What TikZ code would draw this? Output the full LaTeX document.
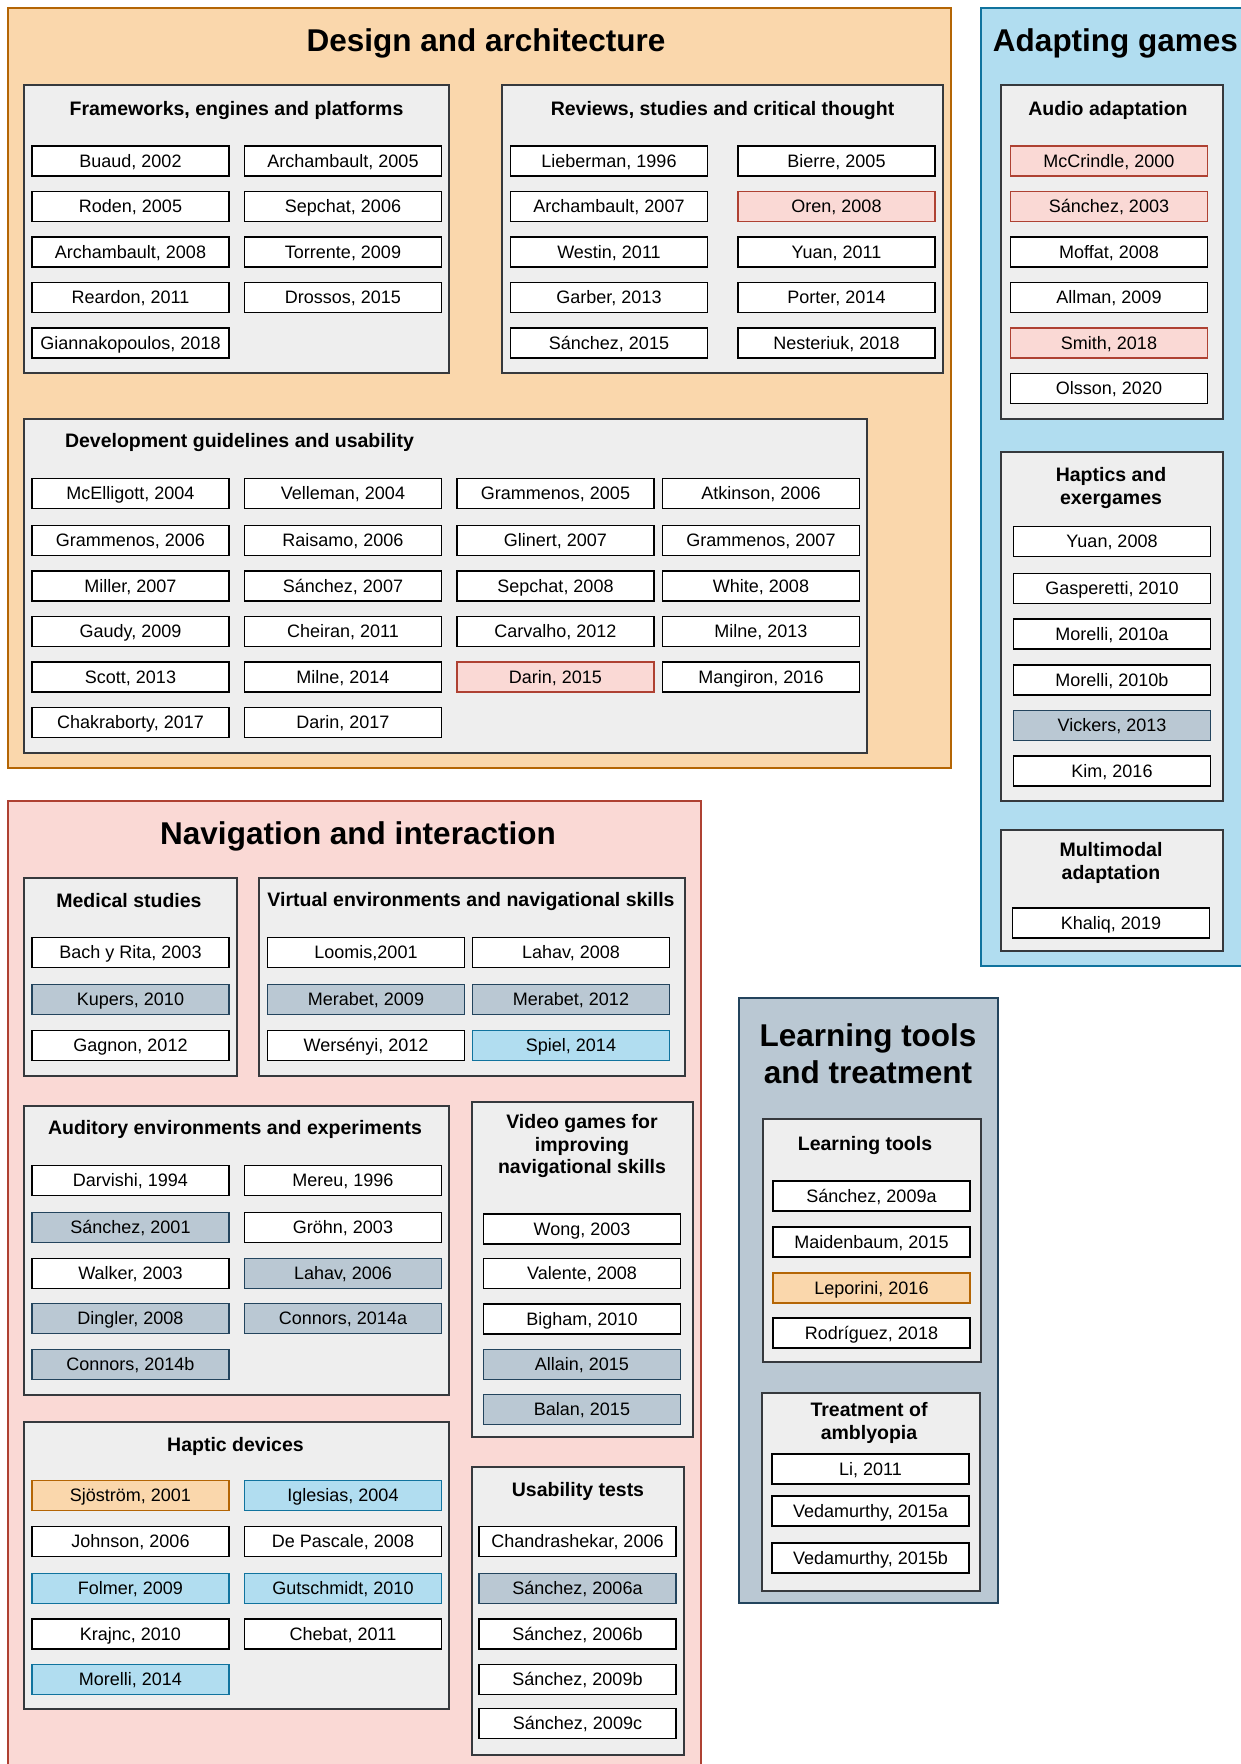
\documentclass[tikz,border=0pt]{standalone}
\usepackage{fontspec}
\setmainfont{Liberation Sans}
\usepackage{xcolor}
\usepackage{tikz}
\definecolor{colorO}{HTML}{FAD7AC}
\definecolor{colorOline}{HTML}{B46504}
\definecolor{colorR}{HTML}{FAD9D5}
\definecolor{colorRline}{HTML}{AE4132}
\definecolor{colorB}{HTML}{B1DDF0}
\definecolor{colorBline}{HTML}{10739E}
\definecolor{colorG}{HTML}{BAC8D3}
\definecolor{colorGline}{HTML}{23445D}
\definecolor{colorBox}{HTML}{EEEEEE}
\definecolor{colorBoxline}{HTML}{36393D}
\newcommand{\reffont}{\fontsize{18}{21}\selectfont}
\newcommand{\groupfont}{\fontsize{19.5}{22.5}\selectfont\bfseries}
\newcommand{\areafont}{\fontsize{31.5}{37}\selectfont\bfseries}
\tikzset{
    ref/.style={draw=black, fill=white, line width=1.4pt, minimum width=197pt, minimum height=30pt, inner sep=0pt, text height=12.9pt, text depth=0pt, font=\reffont},
    refO/.style={ref, draw=colorOline, fill=colorO},
    refR/.style={ref, draw=colorRline, fill=colorR},
    refB/.style={ref, draw=colorBline, fill=colorB},
    refG/.style={ref, draw=colorGline, fill=colorG},
    groupbox/.style={draw=colorBoxline, fill=colorBox, line width=1.2pt},
    grouptitle/.style={font=\groupfont, align=center, inner sep=0pt, yshift=-2pt},
    areatitle/.style={font=\areafont, align=center, inner sep=0pt, yshift=-3.4pt}
}

\begin{document}
\begin{tikzpicture}[x=1pt, y=-1pt]
        \useasboundingbox (0,0) rectangle (1241,1764);

        % Design and architecture
        \filldraw[fill=colorO, draw=colorOline, line width=1.2pt] (8,8) rectangle (951,768);
        \node[areatitle] (design) at (486,40) {Design and architecture};

        \filldraw[groupbox] (24,85) rectangle (449,373);
        \node[grouptitle] (frameworks) at (236.5,108) {Frameworks, engines and platforms};
        \node[ref] (fw1) at (130.5,161) {Buaud, 2002};
        \node[ref] (fw2) at (343,161) {Archambault, 2005};
        \node[ref] (fw3) at (130.5,206.5) {Roden, 2005};
        \node[ref] (fw4) at (343,206.5) {Sepchat, 2006};
        \node[ref] (fw5) at (130.5,252) {Archambault, 2008};
        \node[ref] (fw6) at (343,252) {Torrente, 2009};
        \node[ref] (fw7) at (130.5,297.5) {Reardon, 2011};
        \node[ref] (fw8) at (343,297.5) {Drossos, 2015};
        \node[ref] (fw9) at (130.5,343) {Giannakopoulos, 2018};

        \filldraw[groupbox] (502,85) rectangle (943,373);
        \node[grouptitle] (reviews) at (722.5,108) {Reviews, studies and critical thought};
        \node[ref] (rv1) at (609,161) {Lieberman, 1996};
        \node[ref] (rv2) at (836.5,161) {Bierre, 2005};
        \node[ref] (rv3) at (609,206.5) {Archambault, 2007};
        \node[refR] (rv4) at (836.5,206.5) {Oren, 2008};
        \node[ref] (rv5) at (609,252) {Westin, 2011};
        \node[ref] (rv6) at (836.5,252) {Yuan, 2011};
        \node[ref] (rv7) at (609,297.5) {Garber, 2013};
        \node[ref] (rv8) at (836.5,297.5) {Porter, 2014};
        \node[ref] (rv9) at (609,343) {Sánchez, 2015};
        \node[ref] (rv10) at (836.5,343) {Nesteriuk, 2018};

        \filldraw[groupbox] (24,419) rectangle (867,753);
        \node[grouptitle] (guidelines) at (239.5,440) {Development guidelines and usability};
        \node[ref] (dg1) at (130.5,493.5) {McElligott, 2004};
        \node[ref] (dg2) at (343,493.5) {Velleman, 2004};
        \node[ref] (dg3) at (555.5,493.5) {Grammenos, 2005};
        \node[ref] (dg4) at (761,493.5) {Atkinson, 2006};
        \node[ref] (dg5) at (130.5,540.5) {Grammenos, 2006};
        \node[ref] (dg6) at (343,540.5) {Raisamo, 2006};
        \node[ref] (dg7) at (555.5,540.5) {Glinert, 2007};
        \node[ref] (dg8) at (761,540.5) {Grammenos, 2007};
        \node[ref] (dg9) at (130.5,586) {Miller, 2007};
        \node[ref] (dg10) at (343,586) {Sánchez, 2007};
        \node[ref] (dg11) at (555.5,586) {Sepchat, 2008};
        \node[ref] (dg12) at (761,586) {White, 2008};
        \node[ref] (dg13) at (130.5,631.5) {Gaudy, 2009};
        \node[ref] (dg14) at (343,631.5) {Cheiran, 2011};
        \node[ref] (dg15) at (555.5,631.5) {Carvalho, 2012};
        \node[ref] (dg16) at (761,631.5) {Milne, 2013};
        \node[ref] (dg17) at (130.5,677) {Scott, 2013};
        \node[ref] (dg18) at (343,677) {Milne, 2014};
        \node[refR] (dg19) at (555.5,677) {Darin, 2015};
        \node[ref] (dg20) at (761,677) {Mangiron, 2016};
        \node[ref] (dg21) at (130.5,722.5) {Chakraborty, 2017};
        \node[ref] (dg22) at (343,722.5) {Darin, 2017};

        % Adapting games
        \filldraw[fill=colorB, draw=colorBline, line width=1.2pt] (981,8) rectangle (1250,966);
        \node[areatitle] (adapting) at (1115.5,40) {Adapting games};

        \filldraw[groupbox] (1001,85) rectangle (1223,419);
        \node[grouptitle] (audio) at (1108,108) {Audio adaptation};
        \node[refR] (au1) at (1109,161) {McCrindle, 2000};
        \node[refR] (au2) at (1109,206.5) {Sánchez, 2003};
        \node[ref] (au3) at (1109,252) {Moffat, 2008};
        \node[ref] (au4) at (1109,297.5) {Allman, 2009};
        \node[refR] (au5) at (1109,343) {Smith, 2018};
        \node[ref] (au6) at (1109,388.5) {Olsson, 2020};

        \filldraw[groupbox] (1001,452) rectangle (1223,801);
        \node[grouptitle] (haptics) at (1111,486) {Haptics and\\exergames};
        \node[ref] (hx1) at (1112,541.5) {Yuan, 2008};
        \node[ref] (hx2) at (1112,588.5) {Gasperetti, 2010};
        \node[ref] (hx3) at (1112,634) {Morelli, 2010a};
        \node[ref] (hx4) at (1112,680) {Morelli, 2010b};
        \node[refG] (hx5) at (1112,725.5) {Vickers, 2013};
        \node[ref] (hx6) at (1112,771) {Kim, 2016};

        \filldraw[groupbox] (1001,830) rectangle (1223,951);
        \node[grouptitle] (multimodal) at (1111,861) {Multimodal\\adaptation};
        \node[ref] (mm1) at (1111,923) {Khaliq, 2019};

        % Navigation and interaction
        \filldraw[fill=colorR, draw=colorRline, line width=1.2pt] (8,801) rectangle (701,1790);
        \node[areatitle] (navigation) at (358,833) {Navigation and interaction};

        \filldraw[groupbox] (24,878) rectangle (237,1076);
        \node[grouptitle] (medical) at (129,899) {Medical studies};
        \node[ref] (md1) at (130.5,952.5) {Bach y Rita, 2003};
        \node[refG] (md2) at (130.5,999.5) {Kupers, 2010};
        \node[ref] (md3) at (130.5,1045.5) {Gagnon, 2012};

        \filldraw[groupbox] (259,878) rectangle (685,1076);
        \node[grouptitle] (virtual) at (471,899) {Virtual environments and navigational skills};
        \node[ref] (ve1) at (366,952.5) {Loomis,2001};
        \node[ref] (ve2) at (571,952.5) {Lahav, 2008};
        \node[refG] (ve3) at (366,999.5) {Merabet, 2009};
        \node[refG] (ve4) at (571,999.5) {Merabet, 2012};
        \node[ref] (ve5) at (366,1045.5) {Wersényi, 2012};
        \node[refB] (ve6) at (571,1045.5) {Spiel, 2014};

        \filldraw[groupbox] (24,1106) rectangle (449,1395);
        \node[grouptitle] (auditory) at (235,1127) {Auditory environments and experiments};
        \node[ref] (ae1) at (130.5,1180.5) {Darvishi, 1994};
        \node[ref] (ae2) at (343,1180.5) {Mereu, 1996};
        \node[refG] (ae3) at (130.5,1227.5) {Sánchez, 2001};
        \node[ref] (ae4) at (343,1227.5) {Gröhn, 2003};
        \node[ref] (ae5) at (130.5,1273.5) {Walker, 2003};
        \node[refG] (ae6) at (343,1273.5) {Lahav, 2006};
        \node[refG] (ae7) at (130.5,1318.5) {Dingler, 2008};
        \node[refG] (ae8) at (343,1318.5) {Connors, 2014a};
        \node[refG] (ae9) at (130.5,1364.5) {Connors, 2014b};

        \filldraw[groupbox] (472,1102) rectangle (693,1437);
        \node[grouptitle] (videogames) at (582,1144) {Video games for\\improving\\navigational skills};
        \node[ref] (vg1) at (582,1229) {Wong, 2003};
        \node[ref] (vg2) at (582,1273.5) {Valente, 2008};
        \node[ref] (vg3) at (582,1319) {Bigham, 2010};
        \node[refG] (vg4) at (582,1364.5) {Allain, 2015};
        \node[refG] (vg5) at (582,1409.5) {Balan, 2015};

        \filldraw[groupbox] (24,1422) rectangle (449,1709);
        \node[grouptitle] (hapticdev) at (235.5,1444) {Haptic devices};
        \node[refO] (hd1) at (130.5,1495.5) {Sjöström, 2001};
        \node[refB] (hd2) at (343,1495.5) {Iglesias, 2004};
        \node[ref] (hd3) at (130.5,1541.5) {Johnson, 2006};
        \node[ref] (hd4) at (343,1541.5) {De Pascale, 2008};
        \node[refB] (hd5) at (130.5,1588.5) {Folmer, 2009};
        \node[refB] (hd6) at (343,1588.5) {Gutschmidt, 2010};
        \node[ref] (hd7) at (130.5,1634) {Krajnc, 2010};
        \node[ref] (hd8) at (343,1634) {Chebat, 2011};
        \node[refB] (hd9) at (130.5,1679.5) {Morelli, 2014};

        \filldraw[groupbox] (472,1467) rectangle (684,1755);
        \node[grouptitle] (usability) at (578,1489) {Usability tests};
        \node[ref] (ut1) at (577.5,1541.5) {Chandrashekar, 2006};
        \node[refG] (ut2) at (577.5,1588.5) {Sánchez, 2006a};
        \node[ref] (ut3) at (577.5,1634) {Sánchez, 2006b};
        \node[ref] (ut4) at (577.5,1679.5) {Sánchez, 2009b};
        \node[ref] (ut5) at (577.5,1723.5) {Sánchez, 2009c};

        % Learning tools and treatment
        \filldraw[fill=colorG, draw=colorGline, line width=1.2pt] (739,998) rectangle (998,1603);
        \node[areatitle, yshift=3.4pt] (learning) at (868,1053.5) {Learning tools\\and treatment};

        \filldraw[groupbox] (763,1119) rectangle (981,1362);
        \node[grouptitle] (learningtools) at (865,1143) {Learning tools};
        \node[ref] (lt1) at (871.5,1196) {Sánchez, 2009a};
        \node[ref] (lt2) at (871.5,1242) {Maidenbaum, 2015};
        \node[refO] (lt3) at (871.5,1288) {Leporini, 2016};
        \node[ref] (lt4) at (871.5,1333) {Rodríguez, 2018};

        \filldraw[groupbox] (762,1393) rectangle (980,1591);
        \node[grouptitle] (amblyopia) at (869,1421) {Treatment of\\amblyopia};
        \node[ref] (ta1) at (870.5,1469) {Li, 2011};
        \node[ref] (ta2) at (870.5,1511) {Vedamurthy, 2015a};
        \node[ref] (ta3) at (870.5,1558) {Vedamurthy, 2015b};
\end{tikzpicture}
\end{document}
